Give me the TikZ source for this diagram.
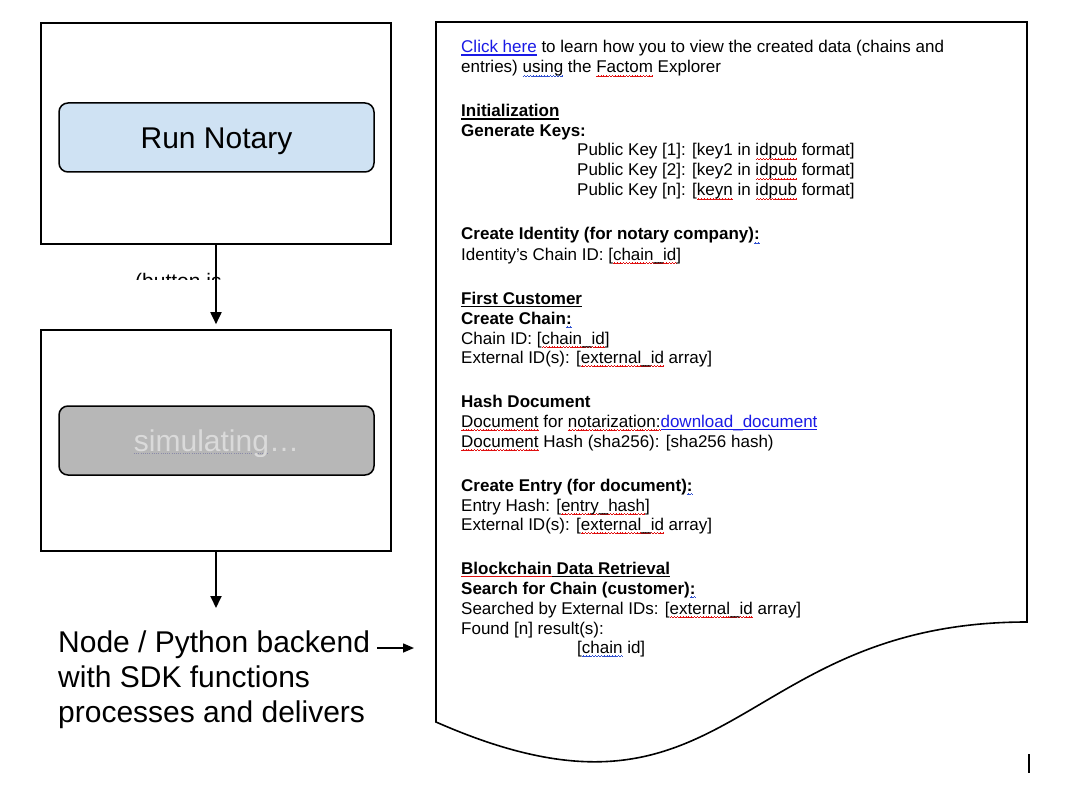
\documentclass[tikz,border=0pt]{standalone}
\usepackage{fontspec}
\setmainfont{Liberation Sans}
\usetikzlibrary{arrows.meta}
\definecolor{runblue}{HTML}{CFE2F3}
\definecolor{simgrey}{HTML}{B7B7B7}
\definecolor{simtext}{HTML}{DADADA}
\definecolor{simdot}{HTML}{8A8AA8}
\definecolor{linkblue}{HTML}{1A1AE6}
\definecolor{sqred}{HTML}{E01010}
\definecolor{sqblue}{HTML}{3050D0}
% wavy spell-check underline
\newcommand\wavebit{\hbox{\rule[0pt]{0.7pt}{0.6pt}\rule[0.5pt]{0.7pt}{0.6pt}\rule[1pt]{0.7pt}{0.6pt}\rule[0.5pt]{0.7pt}{0.6pt}}}
\newcommand\sqw[2]{\leavevmode\setbox0\hbox{#2}\rlap{\raisebox{-3.8pt}{\textcolor{#1}{\hbox to\wd0{\xleaders\wavebit\hfil}}}}\box0\relax}
\newcommand\rw[1]{\sqw{sqred}{#1}}
\newcommand\bw[1]{\sqw{sqblue}{#1}}
% straight underline in a colour
\newcommand\myul[2]{\leavevmode\setbox0\hbox{#2}\rlap{\textcolor{#1}{\rule[-2.6pt]{\wd0}{1.1pt}}}\box0\relax}
% dotted underline
\newcommand\mydots[2]{\leavevmode\setbox0\hbox{#2}\rlap{\raisebox{-2.5pt}{\textcolor{#1}{\hbox to\wd0{\xleaders\hbox{\rule{0.9pt}{0.8pt}\hskip1.3pt}\hfil}}}}\box0\relax}
\tikzset{
  frame/.style={draw, line width=1.6pt, inner sep=0pt},
  button/.style={draw, line width=1.5pt, rounded corners=9pt, inner sep=0pt,
    minimum width=315pt, minimum height=69pt},
  btnlabel/.style={anchor=base, inner sep=0pt, font=\fontsize{30}{34}\selectfont},
  arr/.style={line width=1.8pt, -{Triangle[length=12pt,width=11pt]}},
  bigtext/.style={anchor=base west, inner sep=0pt, font=\fontsize{30}{35}\selectfont},
  doc/.style={anchor=base west, inner sep=0pt, font=\fontsize{17}{20}\selectfont},
}
\begin{document}
\begin{tikzpicture}[x=1pt,y=-1pt]
\fill[white] (0,0) rectangle (1068,805);
\useasboundingbox (0,0) rectangle (1068,805);

% left panels
\node[frame, minimum width=350pt, minimum height=221pt] (box1) at (216,133.5) {};
\node[button, fill=runblue] (run) at (216.5,137.5) {};
\begin{scope}
  \clip (0,0) rectangle (1068,155);
  \node[btnlabel] (runlbl) at (216.5,148.5) {Run Notary};
\end{scope}

\begin{scope}
  \clip (0,0) rectangle (1068,279);
  \node[anchor=base west, inner sep=0pt, font=\fontsize{21}{24}\selectfont] (btnnote) at (135,288) {(button is};
\end{scope}

\node[frame, minimum width=350pt, minimum height=221pt] (box2) at (216,440.5) {};
\node[button, fill=simgrey] (sim) at (216.5,440.5) {};
\begin{scope}
  \clip (0,0) rectangle (1068,456);
  \node[btnlabel, text=simtext] (simlbl) at (216.5,451.5) {\mydots{simdot}{simulating}…};
\end{scope}

\draw[arr] (box1.south) -- ([yshift=5pt]box2.north);
\coordinate (a2e) at (216,608);
\draw[arr] (box2.south) -- (a2e);

\node[bigtext] (bk1) at (58,652) {Node / Python backend};
\node[bigtext] (bk2) at (58,687) {with SDK functions};
\node[bigtext] (bk3) at (58,722) {processes and delivers};
\coordinate (a3e) at (414,648);
\draw[line width=1.5pt, -{Triangle[length=11pt,width=9pt]}] ([shift={(7,-4)}]bk1.base east) -- (a3e);

% document shape
\draw[line width=1.6pt, line join=miter] (436,22) -- (1027,22) -- (1027,622)
  .. controls (731.5,622) and (731.5,852) .. (436,722) -- cycle;
\draw[line width=1.2pt] (1029,754) -- (1029,773);

% document text
\node[doc] (t1) at (461,53) {\textcolor{linkblue}{\myul{linkblue}{Click here}} to learn how you to view the created data (chains and};
\node[doc] (t2) at (461,73) {entries) \bw{using} the \rw{Factom} Explorer};
\node[doc] (t3) at (461,117) {\textbf{\myul{black}{Initialization}}};
\node[doc] (t4) at (461,137) {\textbf{Generate Keys:}};
\node[doc] (t5) at (577,156) {Public Key [1]: [key1 in \rw{idpub} format]};
\node[doc] (t6) at (577,176) {Public Key [2]: [key2 in \rw{idpub} format]};
\node[doc] (t7) at (577,196) {Public Key [n]: [\rw{keyn} in \rw{idpub} format]};
\node[doc] (t8) at (461,240) {\textbf{Create Identity (for notary company)\bw{:}}};
\node[doc] (t9) at (461,260) {Identity’s Chain ID: [\rw{chain\_id}]};
\node[doc] (t10) at (461,304) {\textbf{\myul{black}{First Customer}}};
\node[doc] (t11) at (461,324) {\textbf{Create Chain\bw{:}}};
\node[doc] (t12) at (461,344) {Chain ID: [\rw{chain\_id}]};
\node[doc] (t13) at (461,363) {External ID(s): [\rw{external\_id} array]};
\node[doc] (t14) at (461,407) {\textbf{Hash Document}};
\node[doc] (t15) at (461,427) {\rw{Document} for \rw{notarization:}\textcolor{linkblue}{\myul{linkblue}{download\_document}}};
\node[doc] (t16) at (461,447) {\rw{Document} Hash (sha256): [sha256 hash)};
\node[doc] (t17) at (461,491) {\textbf{Create Entry (for document)\bw{:}}};
\node[doc] (t18) at (461,511) {Entry Hash: [\rw{entry\_hash}]};
\node[doc] (t19) at (461,530) {External ID(s): [\rw{external\_id} array]};
\node[doc] (t20) at (461,574) {\textbf{\myul{black}{\myul{sqred}{Blockchain} Data Retrieval}}};
\node[doc] (t21) at (461,594) {\textbf{Search for Chain (customer)\bw{:}}};
\node[doc] (t22) at (461,614) {Searched by External IDs: [\rw{external\_id} array]};
\node[doc] (t23) at (461,634) {Found [n] result(s):};
\node[doc] (t24) at (577,653) {[\bw{chain} id]};
\end{tikzpicture}
\end{document}
